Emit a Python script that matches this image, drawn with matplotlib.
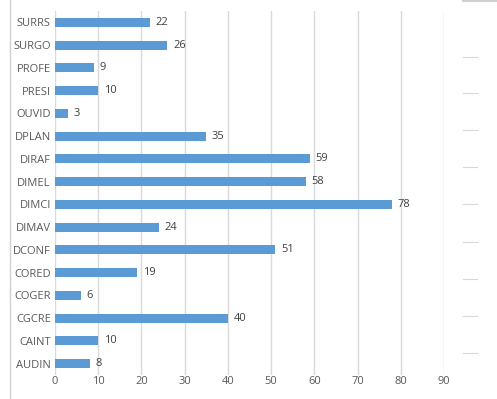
import matplotlib.pyplot as plt
from matplotlib.lines import Line2D

# categories from top to bottom
cats = ['SURRS', 'SURGO', 'PROFE', 'PRESI', 'OUVID', 'DPLAN', 'DIRAF', 'DIMEL',
        'DIMCI', 'DIMAV', 'DCONF', 'CORED', 'COGER', 'CGCRE', 'CAINT', 'AUDIN']
vals = [22, 26, 9, 10, 3, 35, 59, 58, 78, 24, 51, 19, 6, 40, 10, 8]
xticks = [0, 10, 20, 30, 40, 50, 60, 70, 80, 90]

bar_col = '#5B9BD5'
txt_col = '#595959'
grid_col = '#D9D9D9'

plt.rcParams['font.family'] = ['Open Sans', 'DejaVu Sans']

fig = plt.figure(figsize=(4.97, 3.99), dpi=100)
ax = fig.add_axes([55/497, 1-375/399, (444-55)/497, (375-11)/399])

ypos = list(range(len(cats)))[::-1]
ax.barh(ypos, vals, height=0.4, color=bar_col, zorder=2)
for y, v in zip(ypos, vals):
    ax.text(v + 1.3, y, str(v), va='center', ha='left', fontsize=8, color='#404040')

ax.set_xlim(0, 90)
ax.set_ylim(-0.5, len(cats) - 0.5)
ax.set_xticks(xticks)
ax.set_yticks(ypos)
ax.set_yticklabels(cats)
ax.tick_params(length=0, labelsize=8, colors=txt_col, pad=3)
ax.tick_params(axis='x', pad=1)
ax.grid(axis='x', color=grid_col, linewidth=1, zorder=0)
for s in ax.spines.values():
    s.set_visible(False)

# frame pieces from the screenshot
fig.add_artist(Line2D([10/497, 10/497], [0, 1], color='#D0D0D0', lw=1))
fig.add_artist(Line2D([463/497, 1], [1-0.5/399, 1-0.5/399], color='#D0D0D0', lw=1.5))
for yp in [57, 93, 130, 167, 204, 242, 279, 316, 353]:
    fig.add_artist(Line2D([463/497, 477/497], [1-yp/399, 1-yp/399], color='#D9D9D9', lw=0.8))

fig.savefig('out.png', dpi=100)
